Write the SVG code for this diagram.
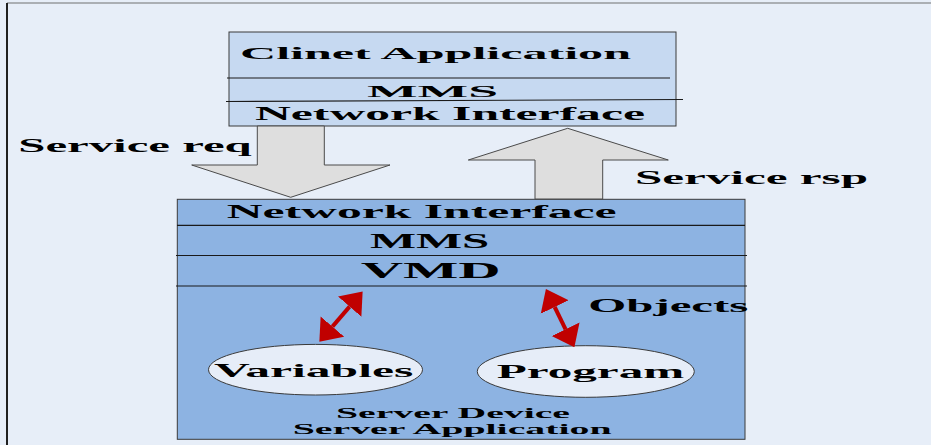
<svg xmlns="http://www.w3.org/2000/svg" width="931" height="445" viewBox="0 0 931 445">
<style>
text{font-family:"Liberation Serif","Times New Roman",serif;font-weight:bold;fill:#000}
.box{stroke:#3a3a3a;stroke-width:1}
.top{fill:#C6D9F1}
.bot{fill:#8DB3E2}
.div{stroke:#1a1a1a;stroke-width:1.2}
.big{fill:#DEDEDE;stroke:#4a4a4a;stroke-width:1}
.ell{fill:#E6EDF8;stroke:#3a3a3a;stroke-width:1}
.red{stroke:#C00000;stroke-width:4;fill:none;marker-start:url(#rh);marker-end:url(#rh)}
</style>
<defs>
<marker id="rh" viewBox="0 -16 20 32" refX="0" refY="0" markerWidth="20" markerHeight="32" markerUnits="userSpaceOnUse" orient="auto-start-reverse">
<path d="M0,-15.5 L20,0 L0,15.5 Z" fill="#C00000"/>
</marker>
</defs>
<rect x="0" y="0" width="931" height="445" fill="#E7EEF8"/>
<line x1="7" y1="3" x2="931" y2="3" stroke="#707070" stroke-width="1.2"/>
<line x1="7" y1="3" x2="7" y2="445" stroke="#202020" stroke-width="2"/>

<g id="client">
<rect class="box top" x="229" y="32" width="447" height="94"/>
<line class="div" x1="227" y1="78" x2="670" y2="78"/>
<line class="div" x1="226" y1="101.5" x2="683" y2="99.5"/>
<text x="240" y="59" font-size="17" textLength="391" lengthAdjust="spacingAndGlyphs">Clinet Application</text>
<text x="367" y="96.7" font-size="16" textLength="131" lengthAdjust="spacingAndGlyphs">MMS</text>
<text x="255" y="120" font-size="18" textLength="390" lengthAdjust="spacingAndGlyphs">Network Interface</text>
</g>

<g id="server">
<rect class="box bot" x="177.3" y="199.3" width="567.7" height="240"/>
<line class="div" x1="177" y1="225.3" x2="745" y2="225.3"/>
<line class="div" x1="176" y1="255.5" x2="747" y2="255.5"/>
<line class="div" x1="176" y1="286" x2="747" y2="286"/>
<text x="226.7" y="217.7" font-size="19" textLength="390" lengthAdjust="spacingAndGlyphs">Network Interface</text>
<text x="370" y="247.7" font-size="20" textLength="119.3" lengthAdjust="spacingAndGlyphs">MMS</text>
<text x="360.7" y="278.3" font-size="23" textLength="140" lengthAdjust="spacingAndGlyphs">VMD</text>
<text x="336" y="417.7" font-size="15" textLength="234" lengthAdjust="spacingAndGlyphs">Server Device</text>
<text x="292.7" y="434" font-size="15" textLength="319" lengthAdjust="spacingAndGlyphs">Server Application</text>
</g>

<g id="variables">
<ellipse class="ell" cx="315.5" cy="369.7" rx="107" ry="25.3"/>
<text x="214" y="376.7" font-size="19" textLength="199.3" lengthAdjust="spacingAndGlyphs">Variables</text>
</g>

<g id="program">
<ellipse class="ell" cx="585.8" cy="371.5" rx="108.5" ry="25.8"/>
<text x="496.7" y="377.7" font-size="19" textLength="187.6" lengthAdjust="spacingAndGlyphs">Program</text>
</g>

<g id="connectors">
<polygon class="big" points="257.3,126 324.3,126 324.3,165 390,165 290.7,197.3 191.7,165 257.3,165"/>
<polygon class="big" points="567.7,128.3 668.3,160 602.7,160 602.7,199 535,199 535,160 468.3,160"/>
<text x="18.3" y="151.7" font-size="19" textLength="233.4" lengthAdjust="spacingAndGlyphs">Service req</text>
<text x="635" y="184" font-size="19" textLength="233" lengthAdjust="spacingAndGlyphs">Service rsp</text>
<line class="red" x1="332.4" y1="326.6" x2="349.6" y2="306.6"/>
<line class="red" x1="554.7" y1="307" x2="565.6" y2="329.3"/>
<text x="588.3" y="312.3" font-size="18" textLength="160" lengthAdjust="spacingAndGlyphs">Objects</text>
</g>
</svg>
